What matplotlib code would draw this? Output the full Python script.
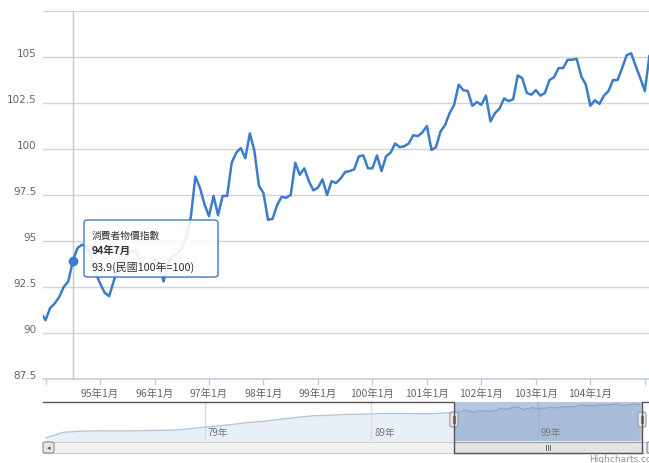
import matplotlib
matplotlib.use("Agg")
import matplotlib.pyplot as plt
from matplotlib.patches import FancyBboxPatch, Rectangle
from matplotlib.transforms import ScaledTranslation
from matplotlib.lines import Line2D

W, H = 649, 464
CJK = ["Noto Sans CJK TC", "DejaVu Sans"]

# ---------------- data ----------------
# monthly CPI (民國100年=100); month index 0 = 95年1月, first value = 93年12月
start_month = -13
cpi = [
    91.1, 90.7, 91.35, 91.6, 91.95, 92.5, 92.8, 93.9, 94.6, 94.8, 94.7, 94.2, 93.3,   # 93/12 - 94/12
    92.7, 92.2, 92.0, 92.8, 93.6, 93.9, 94.2, 94.5, 94.4, 93.9, 93.7, 93.8,          # 95
    94.0, 93.7, 92.8, 93.8, 94.2, 94.3, 94.6, 95.2, 96.3, 98.5, 97.9, 97.0,          # 96
    96.35, 97.45, 96.4, 97.45, 97.45, 99.25, 99.8, 100.05, 99.5, 100.85, 99.9, 98.0,  # 97
    97.6, 96.15, 96.2, 96.95, 97.4, 97.35, 97.5, 99.25, 98.6, 98.95, 98.25, 97.75,   # 98
    97.9, 98.35, 97.5, 98.25, 98.15, 98.4, 98.75, 98.8, 98.9, 99.6, 99.65, 98.95,    # 99
    98.95, 99.65, 98.8, 99.6, 99.8, 100.3, 100.1, 100.15, 100.3, 100.75, 100.7, 100.9,  # 100
    101.25, 99.95, 100.1, 100.95, 101.3, 101.95, 102.4, 103.5, 103.2, 103.15, 102.35, 102.55,  # 101
    102.4, 102.9, 101.5, 101.95, 102.2, 102.75, 102.6, 102.7, 104.0, 103.85, 103.05, 102.95,  # 102
    103.2, 102.9, 103.05, 103.75, 103.9, 104.4, 104.4, 104.85, 104.85, 104.9, 103.95, 103.5,  # 103
    102.35, 102.65, 102.45, 102.9, 103.15, 103.75, 103.75, 104.4, 105.1, 105.2, 104.5, 103.85,  # 104
    103.15, 105.05,                                                                   # 105/1-2
]
months = list(range(start_month, start_month + len(cpi)))

# navigator history (annual, 民國69年-93年), mid-year
hist_years = list(range(69, 94))
hist_cpi = [51.5, 59.9, 61.7, 62.5, 62.5, 62.4, 62.9, 63.2, 64.0, 66.8, 69.6, 72.1,
            75.3, 77.5, 80.7, 83.7, 86.3, 87.1, 88.6, 88.8, 89.9, 89.9, 89.7, 89.5, 90.9]

x_tick_months = [-12, 0, 12, 24, 36, 48, 60, 72, 84, 96, 108, 120]
x_tick_labels = ["", "95年1月", "96年1月", "97年1月", "98年1月", "99年1月", "100年1月",
                 "101年1月", "102年1月", "103年1月", "104年1月", ""]
y_ticks = [87.5, 90, 92.5, 95, 97.5, 100, 102.5, 105, 107.5]
y_tick_labels = ["87.5", "90", "92.5", "95", "97.5", "100", "102.5", "105", ""]

nav_tick_months = [-192, -72, 48]
nav_tick_labels = ["79年", "89年", "99年"]

series_name = "消費者物價指數"
hover_month = -6
hover_label = "94年7月"
hover_text = "93.9(民國100年=100)"
hover_value = cpi[hover_month - start_month]

# ---------------- figure ----------------
LINE = "#3B7CCB"
fig = plt.figure(figsize=(W / 100, H / 100), dpi=100)
fig.patch.set_facecolor("white")

def fx(px):
    return px / W

def fy(py):
    return 1 - py / H

# main plot: x 43..658 px (cropped at 649), y 12..380 px
L, R, T, B = 43, 658, 12, 380
ax = fig.add_axes([fx(L), fy(B), (R - L) / W, (B - T) / H])
x_min, x_max = -12.56, 122.9
ax.set_xlim(x_min, x_max)
ax.set_ylim(87.5, 107.5)
for s in ("top", "right", "left"):
    ax.spines[s].set_visible(False)
ax.spines["bottom"].set_color("#C0D0E0")
ax.spines["bottom"].set_linewidth(1.2)

ax.set_yticks(y_ticks)
ax.set_yticklabels(y_tick_labels)
ax.tick_params(axis="y", length=0, pad=4.5, labelsize=7.5, labelcolor="#666666")
for lab in ax.get_yticklabels():
    lab.set_transform(lab.get_transform() + ScaledTranslation(0, 5 / 100, fig.dpi_scale_trans))
ax.yaxis.grid(True, color="#D4D4D4", linewidth=1)
ax.set_axisbelow(True)

ax.set_xticks(x_tick_months)
ax.set_xticklabels(x_tick_labels, fontfamily=CJK)
ax.tick_params(axis="x", length=4, width=1, color="#C0D0E0", pad=2.5,
               labelsize=7.5, labelcolor="#666666")

# crosshair
ax.axvline(hover_month, color="#C8C8C8", linewidth=1, zorder=1)

ax.plot(months, cpi, color=LINE, linewidth=1.8, zorder=3, solid_joinstyle="round")
ax.plot([hover_month], [hover_value], "o", color=LINE, markersize=6, zorder=4)

# tooltip
tx0, ty0, tx1, ty1 = 84, 221, 218, 278
shadow = FancyBboxPatch((fx(tx0 + 1.5), fy(ty1 + 1.5)), fx(tx1 - tx0), (ty1 - ty0) / H,
                        boxstyle="round,pad=0,rounding_size=0.006",
                        transform=fig.transFigure, facecolor="#000000", alpha=0.06,
                        edgecolor="none", zorder=9, clip_on=False)
ax.add_artist(shadow)
tip = FancyBboxPatch((fx(tx0), fy(ty1)), fx(tx1 - tx0), (ty1 - ty0) / H,
                     boxstyle="round,pad=0,rounding_size=0.006",
                     transform=fig.transFigure, facecolor=(1, 1, 1, 0.9),
                     edgecolor=LINE, linewidth=1, zorder=10, clip_on=False)
ax.add_artist(tip)
ax.text(fx(92), fy(236), series_name, transform=fig.transFigure, fontsize=7,
        color="#333333", va="center", ha="left", fontfamily=CJK, zorder=11)
ax.text(fx(92), fy(251), hover_label, transform=fig.transFigure, fontsize=7.5,
        color="#333333", va="center", ha="left", fontweight="bold", fontfamily=CJK, zorder=11)
ax.text(fx(92), fy(267), hover_text, transform=fig.transFigure, fontsize=7.8,
        color="#333333", va="center", ha="left", fontfamily=CJK, zorder=11)

# ---------------- navigator ----------------
NT, NB = 403, 442
nav = fig.add_axes([fx(L), fy(NB), (R - L) / W, (NB - NT) / H])
px_per_month = 1.389
ref_m, ref_x = 48, 538.0
nav_xmin = ref_m + (L - ref_x) / px_per_month
nav_xmax = ref_m + (R - ref_x) / px_per_month
nav.set_xlim(nav_xmin, nav_xmax)
nav.set_ylim(46.3, 108.2)
nav.axis("off")

nav_m = [(y - 95) * 12 + 6 for y in hist_years] + months
nav_v = hist_cpi + cpi
nav.fill_between(nav_m, nav_v, 0, color="#E9EFF7", linewidth=0, zorder=1)
nav.plot(nav_m, nav_v, color="#B5C6DC", linewidth=1, zorder=2)
for m in nav_tick_months:
    nav.axvline(m, color="#DDDDDD", linewidth=1, zorder=1.5)
for m, lab in zip(nav_tick_months, nav_tick_labels):
    nav.text(m + 3 / px_per_month * 1.0, 0.22, lab, transform=nav.get_xaxis_transform(),
             fontsize=7, color="#777777", ha="left", va="center", fontfamily=CJK, zorder=5)
# selected range mask
nav.axvspan(x_min, x_max, color="#5B82B8", alpha=0.45, linewidth=0, zorder=3)

def sel_px(m):
    return ref_x + (m - ref_m) * px_per_month

sx0, sx1 = sel_px(x_min), sel_px(x_max)

# scrollbar
SB0, SB1 = 443, 454
fig.patches.append(Rectangle((fx(L), fy(SB1)), fx(R - L), (SB1 - SB0) / H,
                             transform=fig.transFigure, facecolor="#F2F2F2",
                             edgecolor="#D0D0D0", linewidth=0.8))
fig.patches.append(Rectangle((fx(sx0), fy(SB1)), fx(sx1 - sx0), (SB1 - SB0) / H,
                             transform=fig.transFigure, facecolor="#E4E4E4",
                             edgecolor="#9A9A9A", linewidth=0.8))
for ddx in (-2, 0, 2):
    fig.lines.append(Line2D([fx((sx0 + sx1) / 2 + ddx)] * 2, [fy(446), fy(451)],
                            transform=fig.transFigure, color="#555555", linewidth=0.6))
for bx in (L, R - 11):
    fig.patches.append(FancyBboxPatch((fx(bx), fy(SB1)), fx(11), (SB1 - SB0) / H,
                                      boxstyle="round,pad=0,rounding_size=0.003",
                                      transform=fig.transFigure, facecolor="#E6E6E6",
                                      edgecolor="#8A8A8A", linewidth=0.8))
fig.text(fx(L + 5.5), fy(448.5), "◂", fontsize=5, color="#444444", ha="center", va="center")

# navigator outline
ox = [fx(L), fx(sx0), fx(sx0), fx(sx1), fx(sx1), fx(R)]
oy = [fy(NT), fy(NT), fy(SB1), fy(SB1), fy(NT), fy(NT)]
fig.lines.append(Line2D(ox, oy, transform=fig.transFigure, color="#555555", linewidth=1))

# handles
for hx in (sx0, sx1):
    fig.patches.append(FancyBboxPatch((fx(hx - 4), fy(428)), fx(8), 15 / H,
                                      boxstyle="round,pad=0,rounding_size=0.004",
                                      transform=fig.transFigure, facecolor="#EBE7E8",
                                      edgecolor="#999999", linewidth=0.8))
    for ddx in (-1.2, 1.2):
        fig.lines.append(Line2D([fx(hx + ddx)] * 2, [fy(417), fy(424)],
                                transform=fig.transFigure, color="#666666", linewidth=0.6))

# credits
fig.text(fx(660), fy(460), "Highcharts.com", fontsize=6.5, color="#909090",
         ha="right", va="center")

fig.savefig("out.png", dpi=100)
